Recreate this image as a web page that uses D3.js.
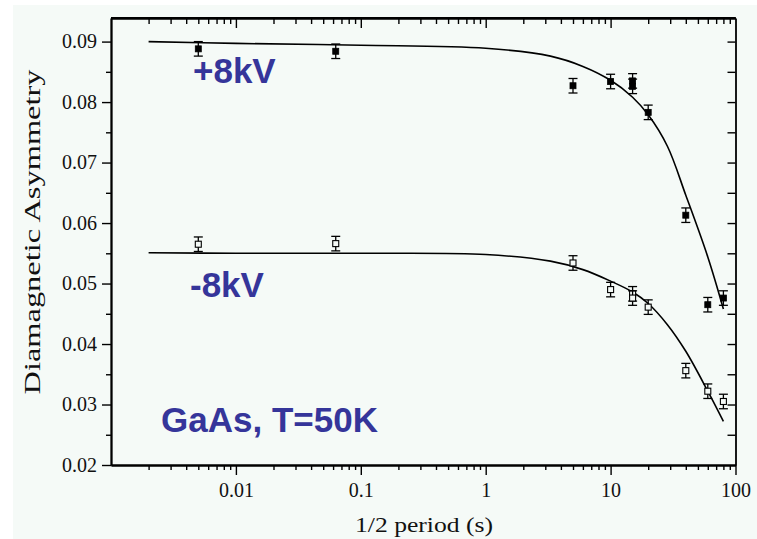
<!DOCTYPE html>
<html>
<head>
<meta charset="utf-8">
<script src="https://cdn.jsdelivr.net/npm/d3@7"></script>
<style>
  body { margin: 0; background: #ffffff; }
  svg { display: block; }
  .tick text { font-family: "Liberation Serif", "Times New Roman", serif; }
</style>
</head>
<body>
<svg id="chart" width="757" height="539"></svg>
<script>
// measured points (1/2 period in s, asymmetry)
const periods = [0.005, 0.063, 5, 10, 15, 15, 20, 40, 60, 80];
const posValues = [0.0888, 0.0884, 0.0827, 0.0834, 0.0835, 0.0826, 0.0783, 0.0613, 0.0465, 0.0476];
const negValues = [0.0565, 0.0566, 0.0534, 0.0490, 0.0483, 0.0476, 0.0461, 0.0356, 0.0322, 0.0305];
const errors = [0.0012, 0.0012, 0.0012, 0.0012, 0.0012, 0.0012, 0.0012, 0.0012, 0.0012, 0.0012];

// fit lines
const fitPeriods = [0.002, 0.01, 0.1, 1, 3.3, 6, 10, 15, 20, 28.5, 40, 60, 80];
const posFit = [0.0900, 0.0897, 0.0894, 0.0889, 0.0876, 0.0859, 0.0836, 0.0808, 0.0779, 0.0727, 0.0646, 0.0544, 0.0458];
const negFit = [0.0551, 0.0550, 0.0550, 0.0548, 0.0537, 0.0523, 0.0504, 0.0486, 0.0467, 0.0432, 0.0388, 0.0322, 0.0272];

const xMajor = [0.001, 0.01, 0.1, 1, 10, 100];
const yMajor = [0.02, 0.03, 0.04, 0.05, 0.06, 0.07, 0.08, 0.09];
const yMinor = [0.025, 0.035, 0.045, 0.055, 0.065, 0.075, 0.085];

const labels = [
  {text: "+8kV", x: 193, y: 83},
  {text: "-8kV", x: 190, y: 297},
  {text: "GaAs, T=50K", x: 161, y: 432}
];

let svg = d3.select("#chart");
let plotLeft = 111, plotRight = 735.5, plotTop = 18, plotBottom = 465;

svg.append("rect")
  .attr("x", 13).attr("y", 5)
  .attr("width", 757).attr("height", 539)
  .attr("fill", "#f5faf7");

let xscale = d3.scaleLog().domain([0.001, 100]).range([plotLeft, plotRight]);
let yscale = d3.scaleLinear().domain([0.02, 0.0939]).range([plotBottom, plotTop]);

// minor x ticks 2..9 per decade
let xMinor = [];
xMajor.slice(0, -1).forEach(d => {
  for (let k = 2; k <= 9; k++) xMinor.push(d * k);
});

const tickFont = "'Liberation Serif', 'Times New Roman', serif";

function styleAxis(g) {
  g.attr("font-family", null);
  g.select(".domain").attr("stroke", "#000").attr("stroke-width", 1.8);
  g.selectAll(".tick line").attr("stroke", "#000").attr("stroke-width", 1.4);
  g.selectAll("text")
    .style("font-family", tickFont)
    .style("font-size", "20px")
    .attr("fill", "#111");
}

// bottom axis
svg.append("g")
  .attr("transform", `translate(0, ${plotBottom})`)
  .call(d3.axisBottom(xscale).tickValues(xMajor.slice(1)).tickFormat(d => String(d))
    .tickSize(10).tickSizeOuter(0).tickPadding(8))
  .call(styleAxis);
svg.append("g")
  .attr("transform", `translate(0, ${plotBottom})`)
  .call(d3.axisBottom(xscale).tickValues(xMinor).tickFormat("").tickSize(5).tickSizeOuter(0))
  .call(styleAxis);

// top axis, ticks pointing inward
svg.append("g")
  .attr("transform", `translate(0, ${plotTop})`)
  .call(d3.axisBottom(xscale).tickValues(xMajor.slice(1, -1)).tickFormat("").tickSize(10).tickSizeOuter(0))
  .call(styleAxis);
svg.append("g")
  .attr("transform", `translate(0, ${plotTop})`)
  .call(d3.axisBottom(xscale).tickValues(xMinor).tickFormat("").tickSize(6).tickSizeOuter(0))
  .call(styleAxis);

// left axis
svg.append("g")
  .attr("transform", `translate(${plotLeft}, 0)`)
  .call(d3.axisLeft(yscale).tickValues(yMajor).tickFormat(d3.format(".2f"))
    .tickSize(9).tickSizeOuter(0).tickPadding(5))
  .call(styleAxis);
svg.append("g")
  .attr("transform", `translate(${plotLeft}, 0)`)
  .call(d3.axisLeft(yscale).tickValues(yMinor).tickFormat("").tickSize(5).tickSizeOuter(0))
  .call(styleAxis);

// right axis, ticks pointing inward
svg.append("g")
  .attr("transform", `translate(${plotRight}, 0)`)
  .call(d3.axisLeft(yscale).tickValues(yMajor.slice(1).concat(yMinor)).tickFormat("").tickSize(8).tickSizeOuter(0))
  .call(styleAxis);

// close the frame on top
svg.append("line")
  .attr("x1", plotLeft).attr("x2", plotRight)
  .attr("y1", plotTop).attr("y2", plotTop)
  .attr("stroke", "#000").attr("stroke-width", 1.8);

// fit curves
let line = d3.line()
  .x((d, i) => xscale(fitPeriods[i]))
  .y(d => yscale(d))
  .curve(d3.curveCatmullRom.alpha(0.5));

[posFit, negFit].forEach(fit => {
  svg.append("path")
    .datum(fit)
    .attr("d", line)
    .attr("fill", "none")
    .attr("stroke", "#000")
    .attr("stroke-width", 1.6);
});

// error bars and markers
function drawSeries(values, filled) {
  let g = svg.append("g");
  let pts = g.selectAll("g.pt")
    .data(values)
    .enter()
    .append("g")
    .attr("class", "pt");

  pts.append("line")
    .attr("x1", (d, i) => xscale(periods[i]))
    .attr("x2", (d, i) => xscale(periods[i]))
    .attr("y1", (d, i) => yscale(d - errors[i]))
    .attr("y2", (d, i) => yscale(d + errors[i]))
    .attr("stroke", "#000").attr("stroke-width", 1.3);

  [-1, 1].forEach(s => {
    pts.append("line")
      .attr("x1", (d, i) => xscale(periods[i]) - 4.5)
      .attr("x2", (d, i) => xscale(periods[i]) + 4.5)
      .attr("y1", (d, i) => yscale(d + s * errors[i]))
      .attr("y2", (d, i) => yscale(d + s * errors[i]))
      .attr("stroke", "#000").attr("stroke-width", 1.3);
  });

  pts.append("rect")
    .attr("x", (d, i) => xscale(periods[i]) - 3)
    .attr("y", d => yscale(d) - 3)
    .attr("width", 6)
    .attr("height", 6)
    .attr("fill", filled ? "#000" : "#f5faf7")
    .attr("stroke", "#000")
    .attr("stroke-width", filled ? 0.8 : 1.1);
}

drawSeries(posValues, true);
drawSeries(negValues, false);

// annotations
svg.selectAll("text.note")
  .data(labels)
  .enter()
  .append("text")
  .attr("class", "note")
  .attr("x", d => d.x)
  .attr("y", d => d.y)
  .attr("font-family", "'Liberation Sans', Arial, sans-serif")
  .attr("font-weight", "bold")
  .attr("font-size", 35)
  .attr("fill", "#35359a")
  .text(d => d.text);

// axis titles
svg.append("text")
  .attr("x", 424).attr("y", 532)
  .attr("text-anchor", "middle")
  .attr("font-family", tickFont)
  .attr("font-size", 22)
  .attr("fill", "#111")
  .attr("textLength", 138)
  .attr("lengthAdjust", "spacingAndGlyphs")
  .text("1/2 period (s)");

svg.append("text")
  .attr("transform", "translate(40, 232) rotate(-90)")
  .attr("text-anchor", "middle")
  .attr("font-family", tickFont)
  .attr("font-size", 24)
  .attr("fill", "#111")
  .attr("textLength", 325)
  .attr("lengthAdjust", "spacingAndGlyphs")
  .text("Diamagnetic Asymmetry");
</script>
</body>
</html>
